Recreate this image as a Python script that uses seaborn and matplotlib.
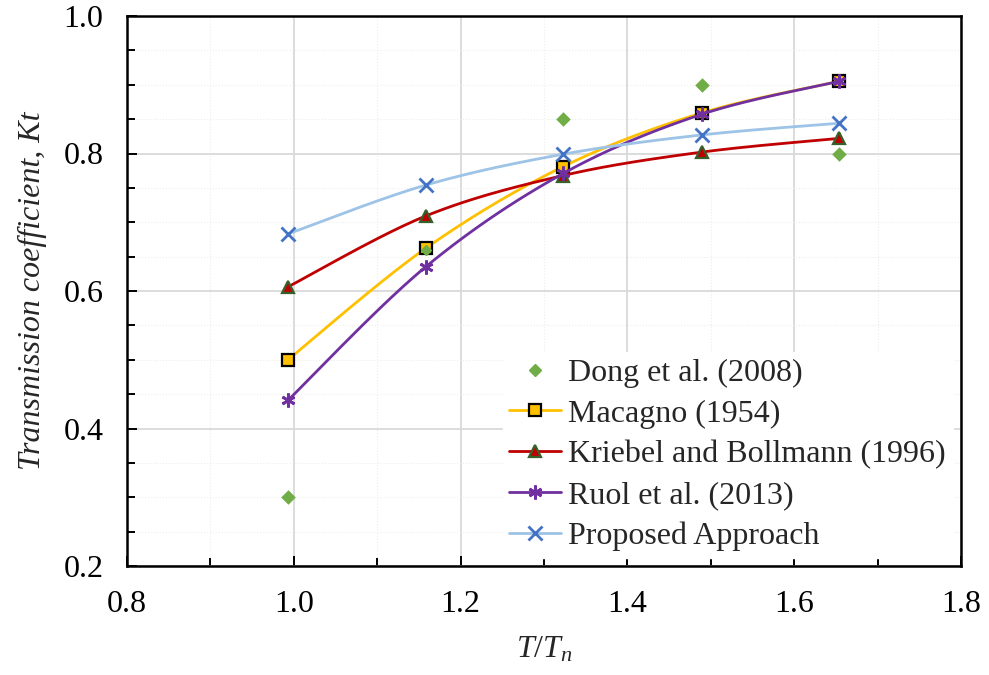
import numpy as np
import pandas as pd
import matplotlib
matplotlib.use("Agg")
import matplotlib.pyplot as plt
from matplotlib.lines import Line2D
from matplotlib.ticker import MultipleLocator, FormatStrFormatter
import seaborn as sns

# ---- data ----
t_ratio = [0.993, 1.158, 1.323, 1.489, 1.654]
dong = [0.30, 0.66, 0.85, 0.90, 0.80]
macagno = [0.50, 0.662, 0.781, 0.859, 0.905]
kriebel = [0.606, 0.709, 0.768, 0.802, 0.822]
ruol = [0.441, 0.635, 0.771, 0.857, 0.905]
proposed = [0.683, 0.754, 0.799, 0.827, 0.844]

labels = ["Dong et al. (2008)", "Macagno (1954)", "Kriebel and Bollmann (1996)",
          "Ruol et al. (2013)", "Proposed Approach"]

sns.set_theme(style="white")
plt.rcParams['font.family'] = ['Liberation Serif', 'DejaVu Serif']
plt.rcParams['mathtext.fontset'] = 'custom'
plt.rcParams['mathtext.it'] = 'Liberation Serif:italic'
plt.rcParams['mathtext.rm'] = 'Liberation Serif'

FS = 23


def smooth(xs, ys, n=40):
    """Excel-style smoothed line: cubic Bezier segments through the points."""
    P = np.column_stack([xs, ys]).astype(float)
    m = len(P)
    out = []
    for i in range(m - 1):
        p0 = P[i - 1] if i > 0 else P[i]
        p1 = P[i]
        p2 = P[i + 1]
        p3 = P[i + 2] if i + 2 < m else P[i + 1]
        c1 = p1 + (p2 - p0) / 6.0
        c2 = p2 - (p3 - p1) / 6.0
        t = np.linspace(0, 1, n)[:, None]
        seg = ((1 - t) ** 3) * p1 + 3 * ((1 - t) ** 2) * t * c1 + 3 * (1 - t) * t ** 2 * c2 + t ** 3 * p2
        out.append(seg if i == 0 else seg[1:])
    s = np.vstack(out)
    return pd.DataFrame({"x": s[:, 0], "y": s[:, 1]})


fig = plt.figure(figsize=(9.89, 6.75), dpi=100)
ax = fig.add_axes([127 / 989, 1 - 566 / 675, (961 - 127) / 989, (566 - 16) / 675])

series = [
    # (values, line color, marker, face, edge, ms, mew)
    (macagno, "#FFC000", "s", "#FFC000", "black", 8.5, 1.6),
    (kriebel, "#C00000", "^", "#C00000", "#38602A", 9, 1.6),
    (ruol, "#7030A0", (6, 2, 0), "#7030A0", "#7030A0", 10, 2.0),
    (proposed, "#9DC3E6", "x", "#4472C4", "#4472C4", 9.5, 2.0),
]

z = 3
for vals, lc, mk, fc, ec, ms, mew in series:
    df = smooth(t_ratio, vals)
    sns.lineplot(data=df, x="x", y="y", sort=False, estimator=None, color=lc,
                 linewidth=2.0, ax=ax, zorder=z)
    ax.plot(t_ratio, vals, linestyle="none", marker=mk, markersize=ms,
            markerfacecolor=fc, markeredgecolor=ec, markeredgewidth=mew, zorder=z + 0.5)
    z += 1

# Dong et al. markers only
sns.scatterplot(x=t_ratio[:1] + t_ratio[2:], y=dong[:1] + dong[2:], marker="D", s=55,
                color="#70AD47", edgecolor="#70AD47", linewidth=0, ax=ax, zorder=2.5)
ax.plot(t_ratio[1:2], dong[1:2], linestyle="none", marker="D", markersize=5.5,
        color="#70AD47", zorder=3.6)

ax.set_xlim(0.8, 1.8)
ax.set_ylim(0.2, 1.0)
ax.xaxis.set_major_locator(MultipleLocator(0.2))
ax.xaxis.set_minor_locator(MultipleLocator(0.1))
ax.yaxis.set_major_locator(MultipleLocator(0.2))
ax.yaxis.set_minor_locator(MultipleLocator(0.05))
ax.xaxis.set_major_formatter(FormatStrFormatter("%.1f"))
ax.yaxis.set_major_formatter(FormatStrFormatter("%.1f"))

ax.grid(True, which="major", color="#D9D9D9", linewidth=1.3, zorder=0)
ax.grid(True, which="minor", color="#EDEDED", linewidth=0.8, linestyle=":", zorder=0)
ax.set_axisbelow(True)

for sp in ax.spines.values():
    sp.set_color("black")
    sp.set_linewidth(1.8)
    sp.set_visible(True)

ax.tick_params(axis="both", which="major", direction="in", length=7, width=1.4,
               color="black", labelsize=FS, labelcolor="black", pad=17)
ax.tick_params(axis="both", which="minor", direction="in", length=6, width=1.4, color="black")
ax.tick_params(axis="y", which="both", left=True, right=False)
ax.tick_params(axis="x", which="both", bottom=True, top=False)

ax.set_xlabel(r"$T/T_n$", fontsize=FS, labelpad=12)
ax.set_ylabel("Transmission coefficient, Kt", fontsize=FS, style="italic", labelpad=12)

handles = [
    Line2D([], [], linestyle="none", marker="D", markersize=6.5, color="#70AD47"),
    Line2D([], [], color="#FFC000", linewidth=2.0, marker="s", markersize=8.5,
           markerfacecolor="#FFC000", markeredgecolor="black", markeredgewidth=1.6),
    Line2D([], [], color="#C00000", linewidth=2.0, marker="^", markersize=9,
           markerfacecolor="#C00000", markeredgecolor="#38602A", markeredgewidth=1.6),
    Line2D([], [], color="#7030A0", linewidth=2.0, marker=(6, 2, 0), markersize=10,
           markerfacecolor="#7030A0", markeredgecolor="#7030A0", markeredgewidth=2.0),
    Line2D([], [], color="#9DC3E6", linewidth=2.0, marker="x", markersize=9.5,
           markerfacecolor="#4472C4", markeredgecolor="#4472C4", markeredgewidth=2.0),
]
leg = ax.legend(handles, labels, loc="upper left", bbox_to_anchor=(503 / 989, 1 - 352 / 675),
                bbox_transform=fig.transFigure, fontsize=FS, frameon=True, fancybox=False,
                framealpha=1.0, edgecolor="white", facecolor="white", handlelength=1.6,
                handletextpad=0.25, labelspacing=0.36, borderpad=0.2, borderaxespad=0)
leg.set_zorder(10)

fig.savefig("out.png", dpi=100)
